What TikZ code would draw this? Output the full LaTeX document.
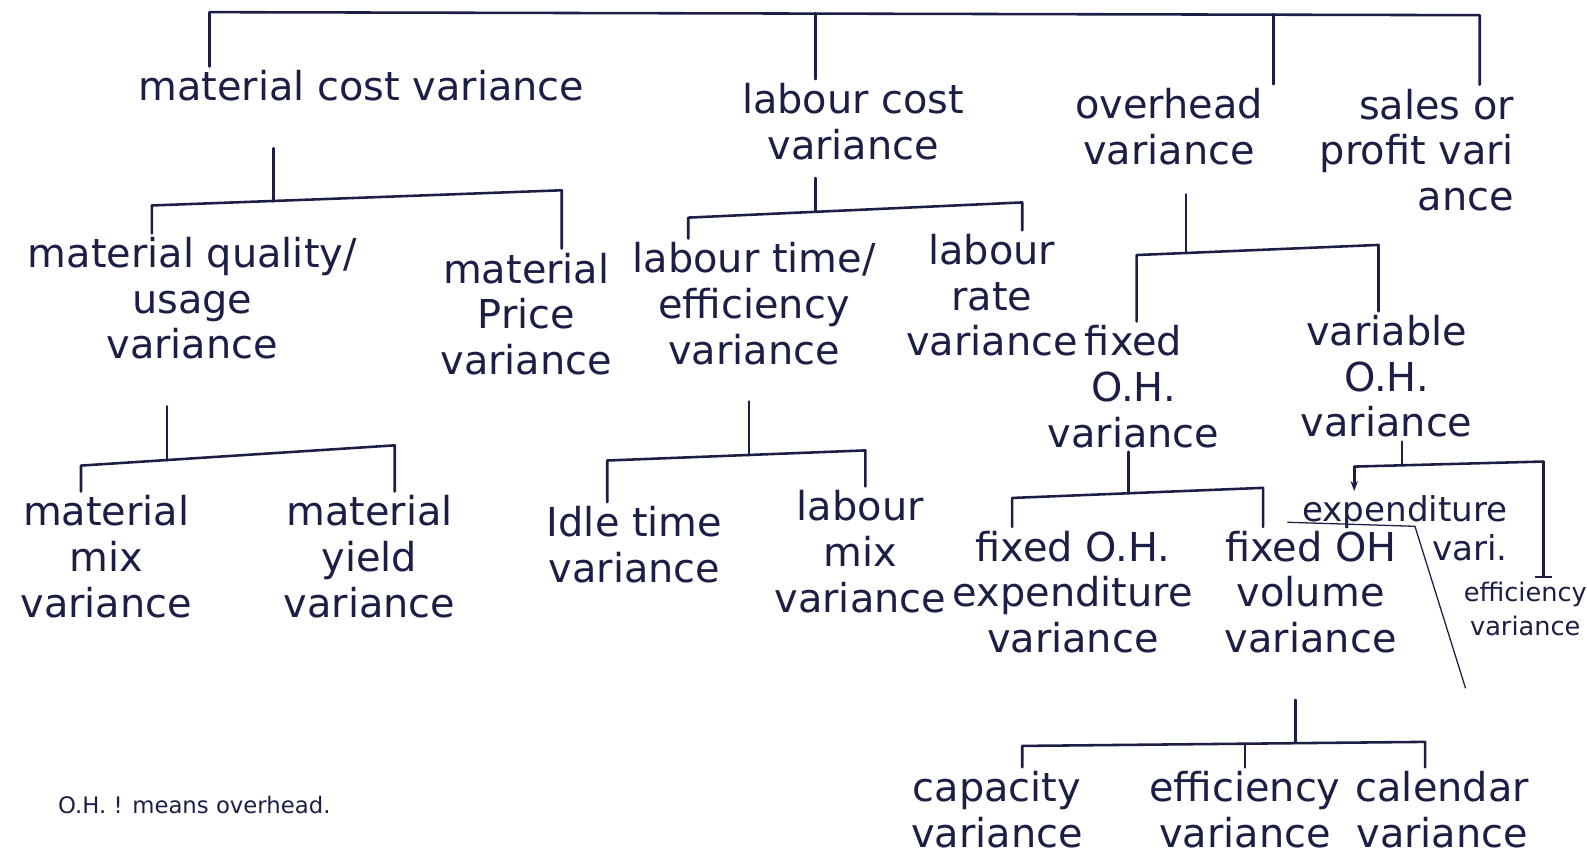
\documentclass[tikz,border=0pt]{standalone}
\usepackage{fontspec}
\setsansfont{DejaVu Sans}
\usetikzlibrary{arrows.meta}
\definecolor{cink}{HTML}{1C1F45}
\tikzset{
  every picture/.style={font=\sffamily, line width=1.8pt},
  lbl/.style={text=cink, align=center, inner sep=2pt, font=\sffamily\fontsize{28}{32}\selectfont},
  lblsmall/.style={lbl, font=\sffamily\fontsize{24}{28}\selectfont},
  lbltiny/.style={lbl, font=\sffamily\fontsize{18}{24}\selectfont},
  link/.style={draw=cink, line cap=round, line join=round},
  note/.style={text=cink, inner sep=2pt, font=\sffamily\fontsize{16}{20}\selectfont},
}

\begin{document}
\begin{tikzpicture}[x=0.025cm, y=-0.025cm]
  \useasboundingbox (0,0) rectangle (1568,848);
  % first level
  \node[lbl] (mcv) at (357,85) {material cost variance};
  \node[lbl] (lcv) at (843,120) {labour cost\\variance};
  \node[lbl] (ohv) at (1155,125) {overhead\\variance};
  \node[lbl, align=right] (spv) at (1400,148) {sales or\\profit vari\\ance};
  \coordinate (top0) at (207,12);
  \coordinate (top1) at (806,13);
  \coordinate (top2) at (1258,14);
  \coordinate (top3) at (1462,15);
  \draw[link] (top0 |- mcv.north) -- (top0) -- (top3) -- (top3 |- spv.north);
  \draw[link] (top1) -- (top1 |- lcv.north);
  \draw[link] (top2) -- (top2 |- ohv.north);
  % material cost split
  \node[lbl] (mqu) at (190,295) {material quality/\\usage\\variance};
  \node[lbl] (mpv) at (520,310) {material\\Price\\variance};
  \coordinate (mc0) at (270,199);
  \coordinate (mc1) at (150,203);
  \coordinate (mc2) at (555,188);
  \draw[link, shorten <=30pt] (mc0 |- mcv.south) -- (mc0);
  \draw[link] (mc1 |- mqu.north) -- (mc1) -- (mc2) -- (mc2 |- mpv.north);
  % labour cost split
  \node[lbl] (ltv) at (745,300) {labour time/\\efficiency\\variance};
  \node[lbl] (lrv) at (980,292) {labour\\rate\\variance};
  \coordinate (lc0) at (806,209);
  \coordinate (lc1) at (680,215);
  \coordinate (lc2) at (1010,200);
  \draw[link, shorten <=10pt] (lc0 |- lcv.south) -- (lc0);
  \draw[link] (lc1 |- ltv.north) -- (lc1) -- (lc2) -- (lc2 |- lrv.north);
  % overhead split
  \node[lbl] (fohv) at (1120,382) {fixed\\O.H.\\variance};
  \node[lbl] (vohv) at (1370,372) {variable\\O.H.\\variance};
  \coordinate (oc0) at (1172,250);
  \coordinate (oc1) at (1123,252);
  \coordinate (oc2) at (1362,242);
  \draw[link, shorten <=18pt] (oc0 |- ohv.south) -- (oc0);
  \draw[link] (oc1 |- fohv.north) -- (oc1) -- (oc2) -- (oc2 |- vohv.north);
  % material usage split
  \node[lbl] (mmv) at (105,550) {material\\mix\\variance};
  \node[lbl] (myv) at (365,550) {material\\yield\\variance};
  \coordinate (qc0) at (165,455);
  \coordinate (qc1) at (80,460);
  \coordinate (qc2) at (390,440);
  \draw[link, shorten <=30pt] (qc0 |- mqu.south) -- (qc0);
  \draw[link] (qc1 |- mmv.north) -- (qc1) -- (qc2) -- (qc2 |- myv.north);
  % labour efficiency split
  \node[lbl] (itv) at (627,538) {Idle time\\variance};
  \node[lbl] (lmv) at (850,545) {labour\\mix\\variance};
  \coordinate (tc0) at (740,450);
  \coordinate (tc1) at (600,455);
  \coordinate (tc2) at (855,445);
  \draw[link, shorten <=23pt] (tc0 |- ltv.south) -- (tc0);
  \draw[link] (tc1 |- itv.north) -- (tc1) -- (tc2) -- (tc2 |- lmv.north);
  % fixed overhead split
  \node[lbl] (foev) at (1060,585) {fixed O.H.\\expenditure\\variance};
  \node[lbl] (fovv) at (1295,585) {fixed OH\\volume\\variance};
  \coordinate (fc0) at (1115,487);
  \coordinate (fc1) at (1000,492);
  \coordinate (fc2) at (1248,482);
  \draw[link] (fc0 |- fohv.south) -- (fc0);
  \draw[link] (fc1 |- foev.north) -- (fc1) -- (fc2) -- (fc2 |- fovv.north);
  % variable overhead split
  \node[lblsmall, align=right] (voev) at (1388,522) {expenditure\\vari.};
  \node[lbltiny] (voefv) at (1507,602) {efficiency\\variance};
  \coordinate (vc0) at (1385,459);
  \coordinate (vc1) at (1338,461);
  \coordinate (vc2) at (1525,456);
  \draw[link] (vc0 |- vohv.south) -- (vc0);
  \draw[link] (vc1) -- (vc2);
  \draw[link, -{Stealth[length=2.5mm]}] (vc1) -- (vc1 |- voev.north);
  \draw[link, -{Bar[width=4mm]}] (vc2) -- (vc2 |- voefv.north);
  \draw[cink, line width=0.9pt] (1272,516) -- (1398,520) -- (1448,680);
  % volume split
  \node[lbl] (cav) at (985,800) {capacity\\variance};
  \node[lbl] (efv) at (1230,800) {efficiency\\variance};
  \node[lbl] (clv) at (1425,800) {calendar\\variance};
  \coordinate (vl0) at (1280,734);
  \coordinate (vl1) at (1010,737);
  \coordinate (vl2) at (1408,733);
  \coordinate (vl3) at (1230,735);
  \draw[link, shorten <=30pt] (vl0 |- fovv.south) -- (vl0);
  \draw[link] (vl1 |- cav.north) -- (vl1) -- (vl2) -- (vl2 |- clv.north);
  \draw[link] (vl3) -- (vl3 |- efv.north);
  \node[note] (ohnote) at (192,795) {O.H. ! means overhead.};
\end{tikzpicture}
\end{document}
